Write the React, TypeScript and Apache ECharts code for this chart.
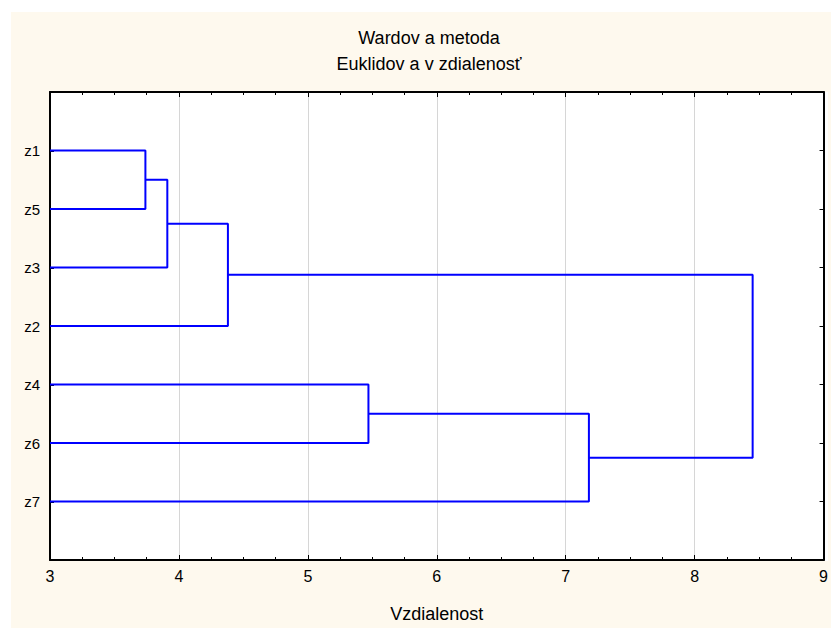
import React, { useEffect, useRef } from "react";
import * as echarts from "echarts";

// Leaf order top to bottom
const LEAVES: string[] = ["z1", "z5", "z3", "z2", "z4", "z6", "z7"];
// Merges: [left child, right child, linkage distance]; children are leaf names or cluster ids
const MERGE_A: string[] = ["z1", "c1", "c2", "z4", "c4", "c3"];
const MERGE_B: string[] = ["z5", "z3", "z2", "z6", "z7", "c5"];
const MERGE_H: number[] = [3.74, 3.91, 4.38, 5.47, 7.18, 8.45];
const MERGE_ID: string[] = ["c1", "c2", "c3", "c4", "c5", "c6"];

const X_TICKS: number[] = [3, 4, 5, 6, 7, 8, 9];
const TITLE = "Wardov a metoda";
const SUBTITLE = "Euklidov a v zdialenosť";
const X_NAME = "Vzdialenost";

const FONT = "Liberation Sans, Arial, sans-serif";

export default function App() {
  const ref = useRef<HTMLDivElement>(null);

  useEffect(() => {
    if (!ref.current) return;
    const chart = echarts.init(ref.current, undefined, { renderer: "svg" });
    const xMin = X_TICKS[0];
    const xMax = X_TICKS[X_TICKS.length - 1];

    const pos: Record<string, { y: number; h: number }> = {};
    LEAVES.forEach((l, i) => {
      pos[l] = { y: i + 1, h: xMin };
    });
    const series: any[] = [];
    MERGE_ID.forEach((id, i) => {
      const a = pos[MERGE_A[i]];
      const b = pos[MERGE_B[i]];
      const h = MERGE_H[i];
      series.push({
        type: "line",
        data: [
          [a.h, a.y],
          [h, a.y],
          [h, b.y],
          [b.h, b.y],
        ],
        symbol: "none",
        lineStyle: { color: "#0000ff", width: 2 },
        silent: true,
        z: 3,
      });
      pos[id] = { y: (a.y + b.y) / 2, h };
    });

    const W = chart.getWidth();
    const plotLeft = 39;
    const plotRight = 3;
    const plotW = W - plotLeft - plotRight;

    const axisLine = { show: true, onZero: false, lineStyle: { color: "#000", width: 2 } };
    const titleStyle = (text: string) => ({
      text,
      fill: "#000",
      font: `18px ${FONT}`,
      align: "center",
      verticalAlign: "middle",
      textAlign: "center",
      textVerticalAlign: "middle",
    });

    chart.setOption({
      animation: false,
      backgroundColor: "#fef9ee",
      graphic: [
        { type: "text", x: 418, y: 26, style: titleStyle(TITLE) },
        { type: "text", x: 418, y: 52, style: titleStyle(SUBTITLE) },
        {
          type: "rect",
          shape: { x: plotLeft, y: 80, width: plotW, height: 469 },
          style: { fill: "#ffffff" },
          z: -10,
        },
      ],
      grid: { left: plotLeft, top: 80, right: plotRight, bottom: 67, containLabel: false },
      xAxis: [
        {
          type: "value",
          position: "bottom",
          min: xMin,
          max: xMax,
          interval: 1,
          name: X_NAME,
          nameLocation: "middle",
          nameGap: 45,
          nameTextStyle: { color: "#000", fontSize: 18, fontFamily: FONT },
          axisLine,
          axisTick: { show: true, inside: true, length: 5, lineStyle: { color: "#000", width: 1 } },
          minorTick: { show: true, splitNumber: 4, length: 3, lineStyle: { color: "#000", width: 1 } },
          axisLabel: { color: "#000", fontSize: 16, fontFamily: FONT, margin: 8 },
          splitLine: { show: true, lineStyle: { color: "#d6d6d6", width: 1 } },
        },
        {
          type: "value",
          position: "top",
          min: xMin,
          max: xMax,
          interval: 1,
          axisLine,
          axisTick: { show: true, inside: true, length: 5, lineStyle: { color: "#000", width: 1 } },
          minorTick: { show: true, splitNumber: 4, length: 3, lineStyle: { color: "#000", width: 1 } },
          axisLabel: { show: false },
          splitLine: { show: false },
        },
      ],
      yAxis: [
        {
          type: "value",
          position: "left",
          min: 0,
          max: LEAVES.length + 1,
          interval: 1,
          inverse: true,
          axisLine,
          axisTick: { show: true, inside: true, length: 4, lineStyle: { color: "#000", width: 2 } },
          axisLabel: {
            color: "#000",
            fontSize: 15,
            fontFamily: FONT,
            margin: 10,
            formatter: (v: number) => LEAVES[v - 1] ?? "",
          },
          splitLine: { show: false },
        },
        {
          type: "value",
          position: "right",
          min: 0,
          max: LEAVES.length + 1,
          interval: 1,
          inverse: true,
          axisLine,
          axisTick: { show: true, inside: true, length: 4, lineStyle: { color: "#000", width: 1 } },
          axisLabel: { show: false },
          splitLine: { show: false },
        },
      ],
      series,
    });
    return () => chart.dispose();
  }, []);

  return (
    <div
      ref={ref}
      style={{ position: "absolute", left: 11, top: 12, width: 820, height: 616, overflow: "hidden" }}
    />
  );
}
